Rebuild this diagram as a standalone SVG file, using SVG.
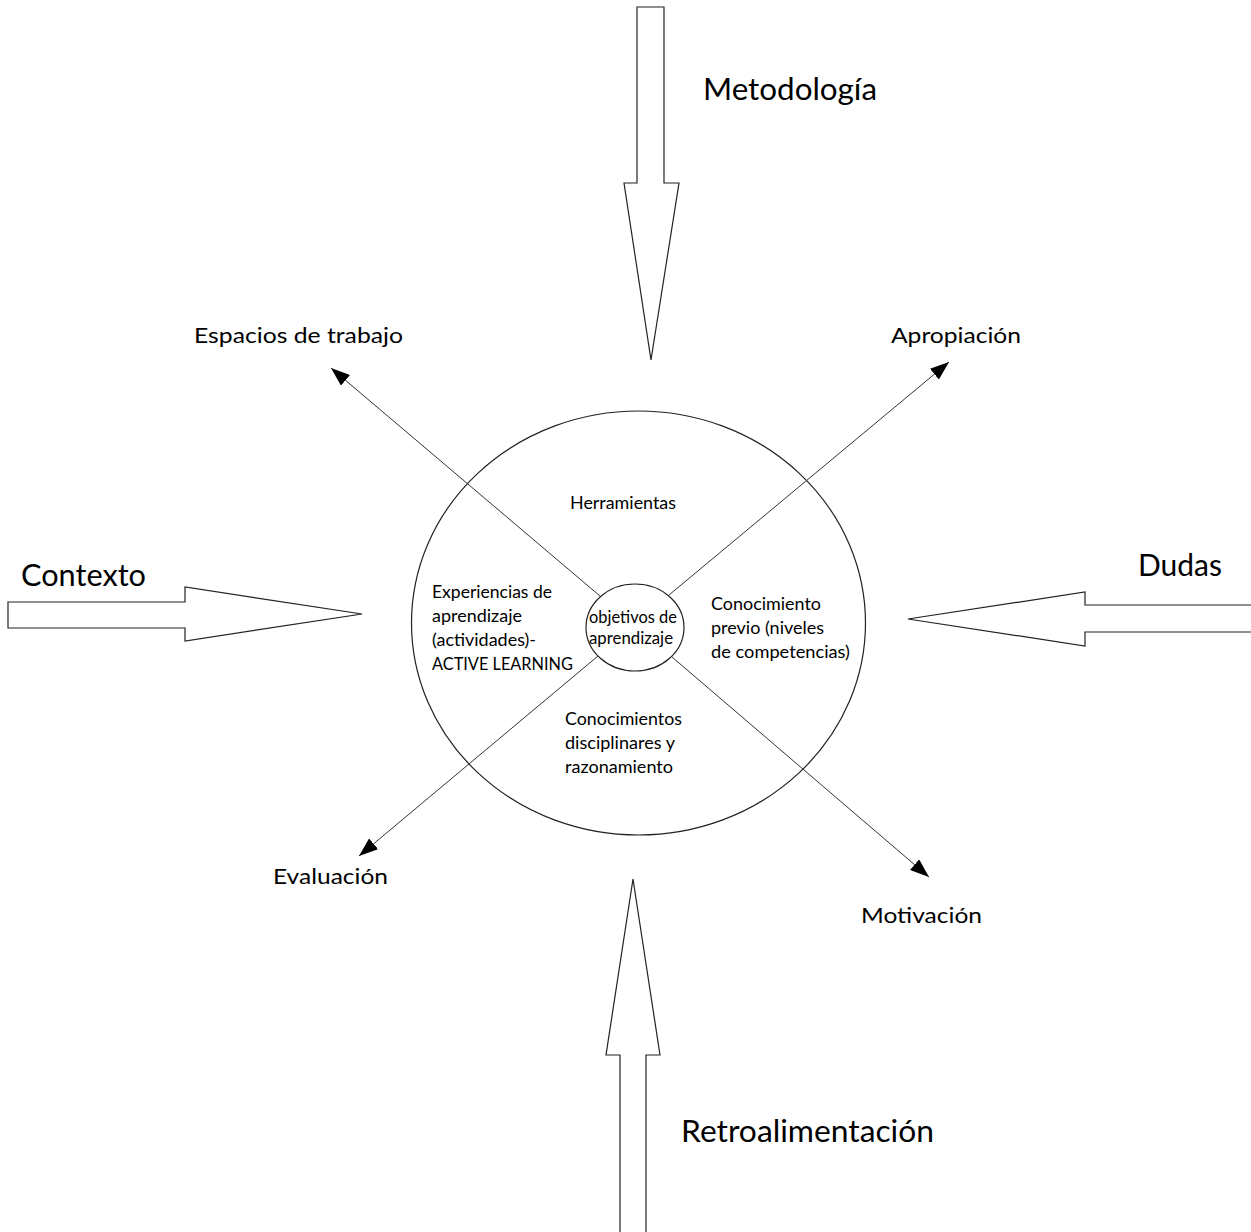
<svg xmlns="http://www.w3.org/2000/svg" width="1251" height="1232" viewBox="0 0 1251 1232">
<style>
.big{fill:#fff;stroke:#222;stroke-width:1.2}
.circ{fill:#fff;stroke:#222;stroke-width:1.2}
.conn{fill:none;stroke:#333;stroke-width:1}
.lg{font-family:Lato,"Open Sans",sans-serif;font-size:30px;fill:#000}
.md{font-family:Lato,"Open Sans",sans-serif;font-size:22px;fill:#000}
.sm{font-family:Lato,"Open Sans",sans-serif;font-size:16.5px;fill:#000}
</style>
<defs>
<marker id="ah" markerUnits="userSpaceOnUse" markerWidth="20" markerHeight="14" refX="19" refY="7" orient="auto">
<path d="M0,0 L19,7 L0,14 Z" fill="#000"/>
</marker>
</defs>
<rect width="1251" height="1232" fill="#fff"/>

<g id="metodologia">
<path class="big" d="M637,7 H664 V183 H679 L651,360 L624,183 H637 Z"/>
<text class="lg" x="703" y="100" textLength="174" lengthAdjust="spacingAndGlyphs">Metodología</text>
</g>
<g id="contexto">
<path class="big" d="M8,602 H185 V587 L362,614 L185,641 V628 H8 Z"/>
<text class="lg" x="21" y="586" textLength="125" lengthAdjust="spacingAndGlyphs">Contexto</text>
</g>
<g id="dudas">
<path class="big" d="M1252,605 H1085 V592 L908,619 L1085,646 V632 H1252"/>
<text class="lg" x="1138" y="576" textLength="84" lengthAdjust="spacingAndGlyphs">Dudas</text>
</g>
<g id="retroalimentacion">
<path class="big" d="M620,1233 V1055 H606 L633,879 L660,1055 H646 V1233"/>
<text class="lg" x="681" y="1142" textLength="253" lengthAdjust="spacingAndGlyphs">Retroalimentación</text>
</g>

<g id="outer-circle">
<ellipse class="circ" cx="638.5" cy="623" rx="227" ry="212"/>
</g>

<g id="connectors">
<line class="conn" x1="600" y1="596" x2="331" y2="368" marker-end="url(#ah)"/>
<line class="conn" x1="669" y1="595" x2="949" y2="362" marker-end="url(#ah)"/>
<line class="conn" x1="598" y1="656" x2="359" y2="856" marker-end="url(#ah)"/>
<line class="conn" x1="672" y1="657" x2="929" y2="877" marker-end="url(#ah)"/>
</g>

<g id="inner-circle">
<ellipse class="circ" cx="635" cy="627.5" rx="49" ry="43.5"/>
<text class="sm" x="589" y="623" textLength="88" lengthAdjust="spacingAndGlyphs">objetivos de</text>
<text class="sm" x="589" y="644" textLength="84" lengthAdjust="spacingAndGlyphs">aprendizaje</text>
</g>

<g id="herramientas">
<text class="sm" x="570" y="509" textLength="106" lengthAdjust="spacingAndGlyphs">Herramientas</text>
</g>
<g id="experiencias">
<text class="sm" x="432" y="598" textLength="120" lengthAdjust="spacingAndGlyphs">Experiencias de</text>
<text class="sm" x="432" y="622" textLength="90" lengthAdjust="spacingAndGlyphs">aprendizaje</text>
<text class="sm" x="432" y="646" textLength="104" lengthAdjust="spacingAndGlyphs">(actividades)-</text>
<text class="sm" x="432" y="670" textLength="141" lengthAdjust="spacingAndGlyphs">ACTIVE LEARNING</text>
</g>
<g id="conocimiento-previo">
<text class="sm" x="711" y="610" textLength="110" lengthAdjust="spacingAndGlyphs">Conocimiento</text>
<text class="sm" x="711" y="634" textLength="113" lengthAdjust="spacingAndGlyphs">previo (niveles</text>
<text class="sm" x="711" y="658" textLength="139" lengthAdjust="spacingAndGlyphs">de competencias)</text>
</g>
<g id="conocimientos-disciplinares">
<text class="sm" x="565" y="725" textLength="117" lengthAdjust="spacingAndGlyphs">Conocimientos</text>
<text class="sm" x="565" y="749" textLength="110" lengthAdjust="spacingAndGlyphs">disciplinares y</text>
<text class="sm" x="565" y="773" textLength="108" lengthAdjust="spacingAndGlyphs">razonamiento</text>
</g>

<g id="espacios">
<text class="md" x="194" y="343" textLength="209" lengthAdjust="spacingAndGlyphs">Espacios de trabajo</text>
</g>
<g id="apropiacion">
<text class="md" x="891" y="343" textLength="130" lengthAdjust="spacingAndGlyphs">Apropiación</text>
</g>
<g id="evaluacion">
<text class="md" x="273" y="884" textLength="115" lengthAdjust="spacingAndGlyphs">Evaluación</text>
</g>
<g id="motivacion">
<text class="md" x="861" y="923" textLength="121" lengthAdjust="spacingAndGlyphs">Motivación</text>
</g>
</svg>
